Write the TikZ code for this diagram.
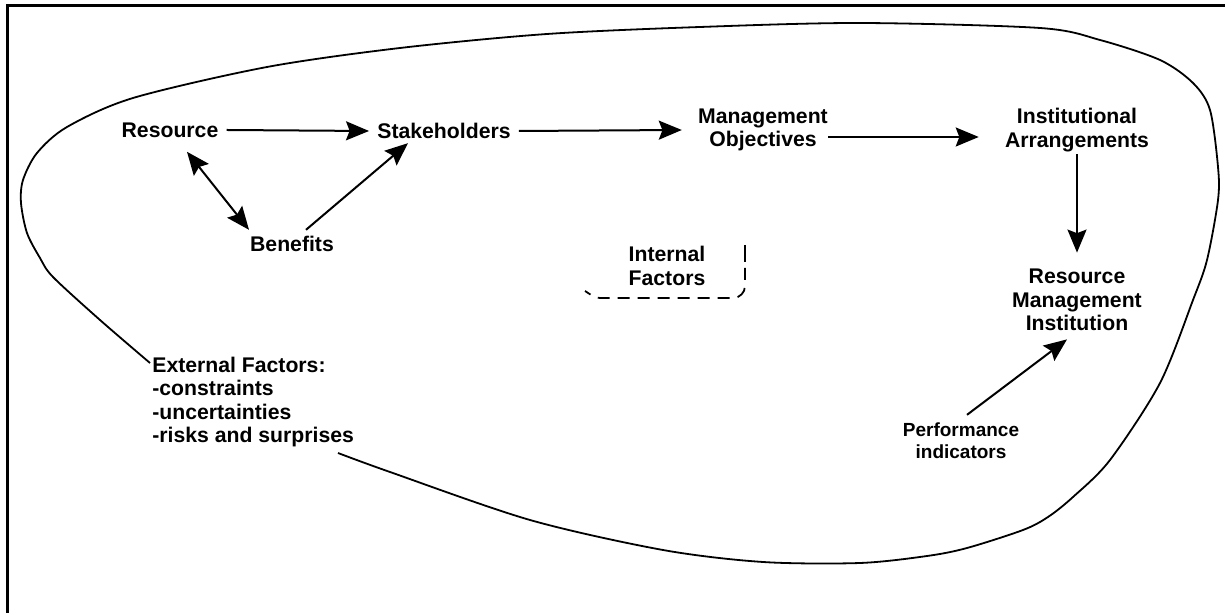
\documentclass[tikz,border=0pt]{standalone}
\usepackage{fontspec}
\setmainfont{Liberation Sans}
\usetikzlibrary{arrows.meta}

\begin{document}
\begin{tikzpicture}[x={(0.5pt,0pt)},y={(0pt,-0.5pt)},
	lbl/.style={align=center,inner sep=4pt,font=\fontsize{10.6}{11.8}\selectfont\bfseries},
	arr/.style={line width=1pt,-{Stealth[length=11.5pt,width=9.5pt,inset=1.8pt]}},
	dbl/.style={line width=1pt,{Stealth[length=11.5pt,width=9.5pt,inset=1.8pt]}-{Stealth[length=11.5pt,width=9.5pt,inset=1.8pt]}}]
	\useasboundingbox (0,0) rectangle (1225,613);
	\draw[line width=1.5pt] (7,613) -- (7,6) -- (1225,6);
	% the loop round everything
	\draw[line width=0.9pt] plot[smooth,tension=0.5] coordinates {(150,363) (100,320) (53,277) (40,258) (27,233) (21,203) (23,180) (37,153) (67,127) (133,98) (267,67) (400,48) (547,34) (700,27) (860,23) (1040,28) (1100,40) (1160,60) (1193,83) (1210,110) (1218,167) (1218,200) (1207,260) (1193,300) (1160,383) (1110,460) (1073,497) (1048,517) (1023,530) (967,548) (927,556) (860,563) (763,562) (663,550) (530,520) (390,472) (338,453)};
	\node[lbl] (res) at (170,130) {Resource};
	\node[lbl] (stk) at (444,131) {Stakeholders};
	\node[lbl] (mo) at (763,130) {Management\\Objectives};
	\node[lbl] (ia) at (1077,130) {Institutional\\Arrangements};
	\node[lbl] (ben) at (292,244) {Benefits};
	\node[lbl] (ifac) at (667,266) {Internal\\Factors};
	\node[lbl] (rmi) at (1077,300) {Resource\\Management\\Institution};
	\node[lbl,font=\fontsize{9.5}{10.8}\selectfont\bfseries] (perf) at (961,441) {Performance\\indicators};
	\node[lbl,align=left,anchor=north west,inner sep=0pt,font=\fontsize{10.6}{11.6}\selectfont\bfseries] (ext) at (152,357) {External Factors:\\-constraints\\-uncertainties\\-risks and surprises};
	\draw[line width=0.9pt] (745,245) -- (745,262);
	\draw[line width=0.9pt,dash pattern=on 6pt off 4pt] (745,268) -- (745,286) to[out=-90,in=0] (733,298) -- (600,298) to[out=180,in=-30] (585,291);
	\draw[arr] (res.east) -- (stk.west);
	\draw[arr] (stk.east) -- ([xshift=-4pt]mo.west);
	\draw[arr,shorten <=-4pt,shorten >=9pt] ([yshift=-3.5pt]mo.east) -- ([yshift=-3.5pt]ia.west);
	\draw[arr] ([yshift=3pt]ia.south) -- ([yshift=4pt]rmi.north);
	\draw[dbl] ([xshift=8.5pt,yshift=-3pt]res.south) -- ([xshift=-21.5pt,yshift=-1pt]ben.north);
	\draw[arr] ([xshift=7pt,yshift=-1pt]ben.north) -- ([xshift=-18pt,yshift=2pt]stk.south);
	\draw[arr] ([xshift=3pt]perf.north) -- ([xshift=-5pt]rmi.south);
\end{tikzpicture}
\end{document}
